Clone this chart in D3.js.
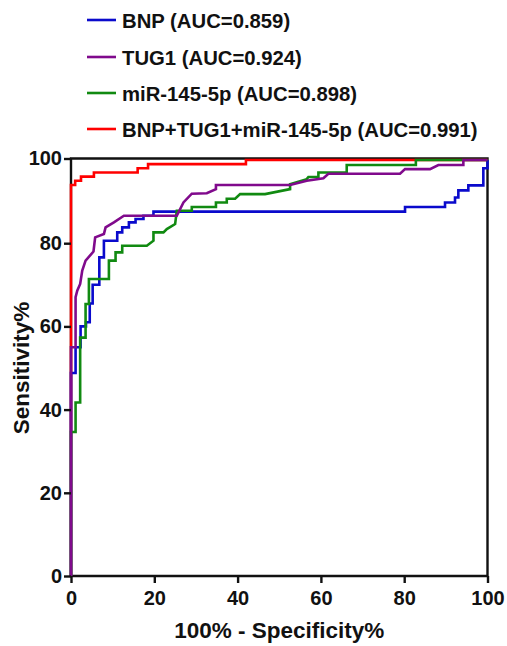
<!DOCTYPE html>
<html>
<head>
<meta charset="utf-8">
<script src="https://cdn.jsdelivr.net/npm/d3@7"></script>
<style>
  body { margin: 0; background: #fff; }
  text { font-family: Arial, "Liberation Sans", sans-serif; font-weight: bold; fill: #111; }
</style>
</head>
<body>
<div id="chart"></div>
<script>
// ROC curves, [100% - specificity, sensitivity]
var bnp = [[0,0],[0,48.8],[1.1,48.8],[1.1,55],[2.3,55],[2.3,60],[3.6,60],[3.6,61],[4.5,61],[4.5,65.5],[5.2,65.5],[5.2,70],[6.8,70],[6.8,73.4],[6.8,76.6],[7.9,76.6],[7.9,80.6],[11.1,80.6],[11.1,82.6],[12.3,82.6],[12.3,83.8],[13.9,83.8],[13.9,85],[15.5,85],[15.5,85.8],[17.4,85.8],[17.4,86.6],[19.8,86.6],[19.8,87.6],[80.2,87.6],[80.2,88.7],[89.8,88.7],[89.8,89.8],[92.2,89.8],[92.2,91],[93,91],[93,92.7],[95.4,92.7],[95.4,93.9],[99,93.9],[99,98],[100,98],[100,100]];
var tug1 = [[0,0],[0,55],[1.1,55],[1.1,67],[1.5,68.6],[2.2,70.2],[2.7,73.4],[3.5,75.8],[5.4,78],[5.8,81.4],[7.9,82.2],[8.3,83.8],[10.3,85],[12.7,86.6],[25.4,86.6],[27,89.8],[29,91.9],[32.6,92],[34.8,93],[34.8,94],[52.6,94],[56.6,95],[60.6,95.6],[61.8,96.7],[79,96.7],[80.2,97.8],[86.2,97.8],[88.2,98.8],[94.2,98.8],[94.2,100],[100,100]];
var mir = [[0,0],[0,34.6],[1.1,34.6],[1.1,41.7],[2.2,41.7],[2.2,57.3],[3.5,57.3],[3.5,65.4],[4.3,65.4],[4.3,71.4],[9.1,71.4],[9.1,75.8],[10.7,75.8],[10.7,77.8],[12.3,77.8],[12.3,79.4],[18.2,79.4],[19.8,80.6],[19.8,82.6],[22.2,82.6],[23,83.4],[25,84.6],[25.4,87.8],[29,87.8],[29,88.7],[34.8,88.7],[34.8,89.8],[37.4,89.8],[37.4,90.7],[39.4,90.7],[40.6,91.8],[46.6,91.8],[52.6,93],[52.6,94.2],[56.6,95.4],[57,95.9],[59.4,95.9],[59.4,97],[66.2,97],[66.2,98.8],[82.8,98.8],[82.8,100],[100,100]];
var combo = [[0,0],[0,94],[1,94],[1,95],[2.4,95],[2.4,96],[5.5,96],[5.5,97],[16,97],[16,98],[18.5,98],[18.5,99],[42,99],[42,100],[100,100]];

var names = ["BNP (AUC=0.859)", "TUG1 (AUC=0.924)", "miR-145-5p (AUC=0.898)", "BNP+TUG1+miR-145-5p (AUC=0.991)"];
var colors = ["#0a0acc", "#800a8c", "#118a11", "#ff0000"];
var curves = [bnp, tug1, mir, combo];
var drawOrder = [3, 0, 2, 1];
var ticks = [0, 20, 40, 60, 80, 100];

var W = 507, H = 646;
var svg = d3.select("#chart").append("svg").attr("width", W).attr("height", H);

var x = d3.scaleLinear().domain([0, 100]).range([71, 487.5]);
var y = d3.scaleLinear().domain([0, 100]).range([576, 160]);

var line = d3.line().x(function(d){ return x(d[0]); }).y(function(d){ return y(d[1]); });

// frame (top edge sits just above the 100% level)
svg.append("path")
  .attr("d", "M" + x(0) + "," + y(0) + "V" + (y(100) - 1.5) + "H" + x(100) + "V" + y(0) + "Z")
  .attr("fill", "none").attr("stroke", "#111").attr("stroke-width", 2.4);

drawOrder.forEach(function(i){
  svg.append("path").datum(curves[i])
    .attr("d", line)
    .attr("fill", "none")
    .attr("stroke", colors[i])
    .attr("stroke-width", 2.6)
    .attr("stroke-linejoin", "miter");
});

var xAxis = svg.append("g").attr("transform", "translate(0," + y(0) + ")")
  .call(d3.axisBottom(x).tickValues(ticks).tickSize(7).tickPadding(8).tickFormat(d3.format("d")));
var yAxis = svg.append("g").attr("transform", "translate(" + x(0) + ",0)")
  .call(d3.axisLeft(y).tickValues(ticks).tickSize(7).tickPadding(2).tickFormat(d3.format("d")));

[xAxis, yAxis].forEach(function(g){
  g.select(".domain").remove();
  g.selectAll(".tick line").attr("stroke", "#111").attr("stroke-width", 2.4);
  g.selectAll(".tick text").style("font-size", "20px").style("font-family", "Arial, 'Liberation Sans', sans-serif").style("font-weight", "bold").attr("fill", "#111");
});
yAxis.select(".tick:last-of-type").attr("transform", "translate(0," + (y(100) - 1) + ")");

svg.append("text")
  .attr("x", (x(0) + x(100)) / 2).attr("y", 638)
  .attr("text-anchor", "middle").style("font-size", "22.5px")
  .text("100% - Specificity%");

svg.append("text")
  .attr("transform", "translate(29," + ((y(0) + y(100)) / 2) + ") rotate(-90)")
  .attr("text-anchor", "middle").style("font-size", "22.5px")
  .text("Sensitivity%");

// legend
var legY = [20, 57, 93, 129];
var leg = svg.append("g");
names.forEach(function(n, i){
  leg.append("line")
    .attr("x1", 87).attr("x2", 116).attr("y1", legY[i]).attr("y2", legY[i])
    .attr("stroke", colors[i]).attr("stroke-width", 2.6);
  leg.append("text")
    .attr("x", 122).attr("y", legY[i] + 7.5)
    .style("font-size", "20.3px")
    .text(n);
});
</script>
</body>
</html>
